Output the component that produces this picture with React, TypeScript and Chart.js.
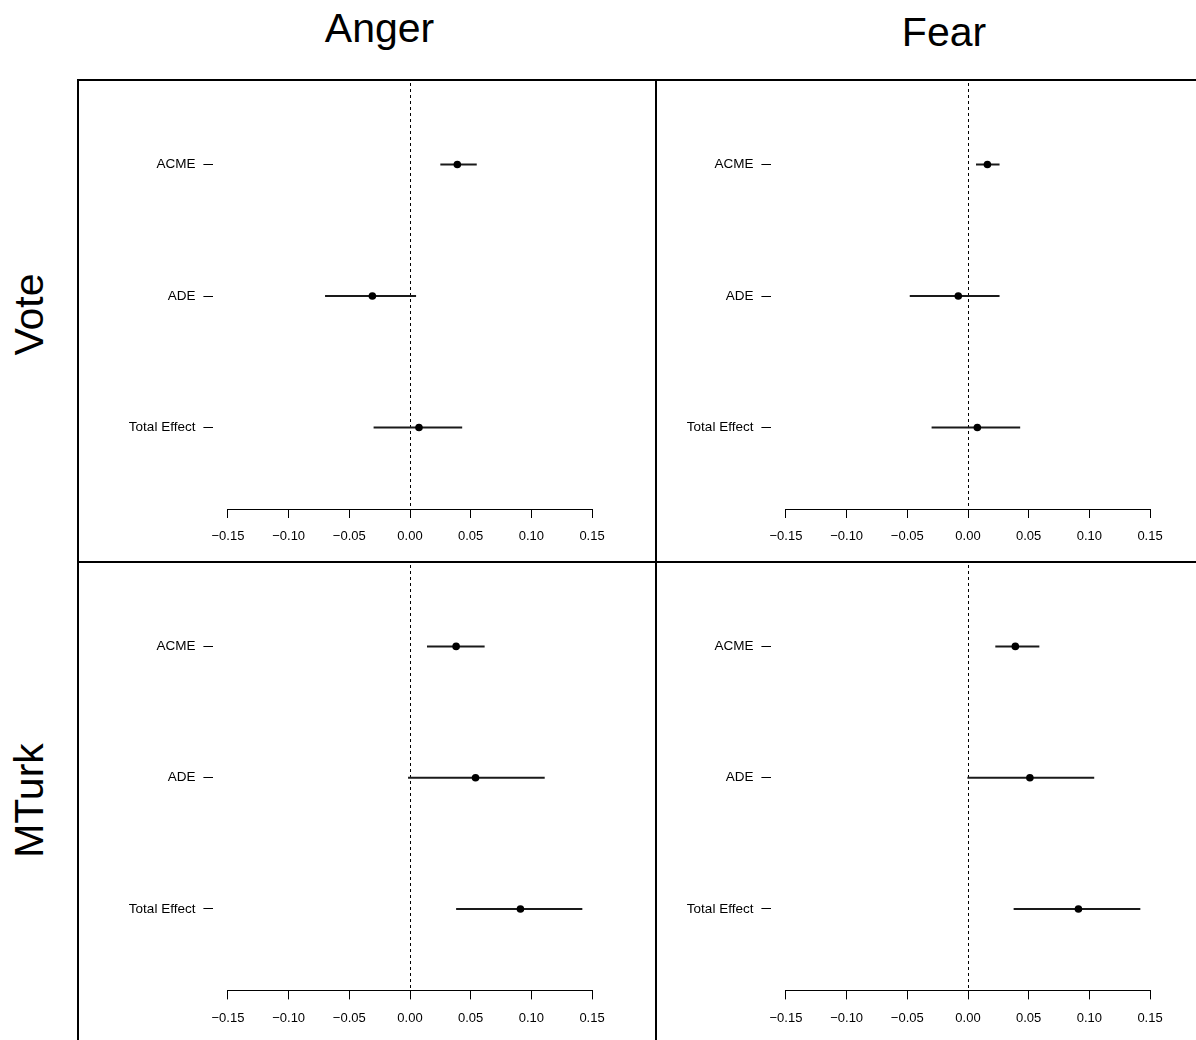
import React, { useEffect, useRef } from "react";
import { Chart, registerables } from "chart.js";

Chart.register(...registerables);

// Effect labels and their positions on the vertical axis (top to bottom)
const effects = ["ACME", "ADE", "Total Effect"];
const effectPos = [3, 2, 1];
const xTicks = [-0.15, -0.1, -0.05, 0, 0.05, 0.1, 0.15];

// Vote sample, anger
const voteAngerEst = [0.039, -0.031, 0.0074];
const voteAngerLo = [0.025, -0.07, -0.03];
const voteAngerHi = [0.055, 0.005, 0.043];
// Vote sample, fear
const voteFearEst = [0.016, -0.008, 0.0077];
const voteFearLo = [0.0066, -0.048, -0.03];
const voteFearHi = [0.026, 0.026, 0.043];
// MTurk sample, anger
const mturkAngerEst = [0.038, 0.054, 0.091];
const mturkAngerLo = [0.014, -0.0016, 0.038];
const mturkAngerHi = [0.0615, 0.111, 0.142];
// MTurk sample, fear
const mturkFearEst = [0.039, 0.051, 0.091];
const mturkFearLo = [0.0225, -0.0005, 0.0376];
const mturkFearHi = [0.0588, 0.104, 0.142];

const FONT = "'Liberation Sans', Arial, Helvetica, sans-serif";

const fmt = (v: number) => {
  if (Math.abs(v) < 1e-9) return "0.00";
  return v.toFixed(2).replace("-", "\u2212");
};

type PanelProps = {
  est: number[];
  lo: number[];
  hi: number[];
  left: number;
  top: number;
  width: number;
  height: number;
  yAxisWidth: number;
  xAxisHeight: number;
  padTop: number;
  padRight: number;
};

const panelPlugin = {
  id: "panelDecor",
  beforeDatasetsDraw(chart: any) {
    const { ctx, chartArea, scales } = chart;
    const x = scales.x;
    ctx.save();
    // dashed reference line at zero
    const x0 = Math.round(x.getPixelForValue(0)) + 0.5;
    ctx.strokeStyle = "#000";
    ctx.lineWidth = 1;
    ctx.setLineDash([3, 3]);
    ctx.beginPath();
    ctx.moveTo(x0, chartArea.top);
    ctx.lineTo(x0, chartArea.bottom);
    ctx.stroke();
    ctx.setLineDash([]);
    // axis line spanning first to last tick
    const yb = Math.round(chartArea.bottom) + 0.5;
    ctx.beginPath();
    ctx.moveTo(x.getPixelForValue(xTicks[0]), yb);
    ctx.lineTo(x.getPixelForValue(xTicks[xTicks.length - 1]), yb);
    ctx.stroke();
    ctx.restore();
  },
  afterDraw(chart: any) {
    const { ctx, width, height } = chart;
    ctx.save();
    ctx.fillStyle = "#000";
    ctx.fillRect(0, 0, width, 2);
    ctx.fillRect(0, 0, 2, height);
    ctx.restore();
  },
};

function Panel(p: PanelProps) {
  const ref = useRef<HTMLCanvasElement>(null);
  useEffect(() => {
    if (!ref.current) return;
    const pts = p.est.map((v, i) => ({ x: v, y: effectPos[i] }));
    const ciSets = p.lo.map((l, i) => ({
      data: [
        { x: l, y: effectPos[i] },
        { x: p.hi[i], y: effectPos[i] },
      ],
      showLine: true,
      borderColor: "#1a1a1a",
      borderWidth: 2,
      pointRadius: 0,
      pointHoverRadius: 0,
    }));
    const chart = new Chart(ref.current, {
      type: "scatter",
      data: {
        datasets: [
          {
            data: pts,
            pointRadius: 3.8,
            pointBackgroundColor: "#000",
            pointBorderWidth: 0,
            showLine: false,
          },
          ...ciSets,
        ],
      } as any,
      options: {
        responsive: false,
        animation: false,
        events: [],
        layout: { padding: { top: p.padTop, right: p.padRight, left: 0, bottom: 0 } },
        plugins: { legend: { display: false }, tooltip: { enabled: false } },
        scales: {
          x: {
            type: "linear",
            min: -0.162,
            max: 0.162,
            afterBuildTicks: (s: any) => {
              s.ticks = xTicks.map((v) => ({ value: v }));
            },
            afterFit: (s: any) => {
              s.height = p.xAxisHeight;
              s.paddingLeft = 0;
              s.paddingRight = 0;
            },
            ticks: {
              callback: (v: any) => fmt(Number(v)),
              font: { size: 13, family: FONT },
              color: "#000",
              padding: 11,
              autoSkip: false,
              maxRotation: 0,
            },
            grid: {
              drawOnChartArea: false,
              drawTicks: true,
              tickLength: 9,
              tickColor: "#000",
              tickWidth: 1,
            },
            border: { display: false },
          },
          y: {
            type: "linear",
            min: 0.38,
            max: 3.62,
            afterBuildTicks: (s: any) => {
              s.ticks = effectPos.map((v) => ({ value: v }));
            },
            afterFit: (s: any) => {
              s.width = p.yAxisWidth;
              s.paddingTop = 0;
              s.paddingBottom = 0;
            },
            ticks: {
              callback: (v: any) => effects[effectPos.indexOf(Number(v))],
              font: { size: 13.5, family: FONT },
              color: "#000",
              padding: 8,
              autoSkip: false,
            },
            grid: {
              drawOnChartArea: false,
              drawTicks: true,
              tickLength: 10,
              tickColor: "#000",
              tickWidth: 1,
            },
            border: { display: false },
          },
        },
      } as any,
      plugins: [panelPlugin],
    });
    return () => chart.destroy();
  }, []);
  return (
    <canvas
      ref={ref}
      width={p.width}
      height={p.height}
      style={{ position: "absolute", left: p.left, top: p.top, width: p.width, height: p.height }}
    />
  );
}

const titleStyle = (cx: number, top: number): React.CSSProperties => ({
  position: "absolute",
  left: cx - 150,
  top,
  width: 300,
  textAlign: "center",
  fontFamily: FONT,
  fontSize: 41,
  lineHeight: "41px",
  color: "#000",
  whiteSpace: "nowrap",
});

const rowStyle = (cx: number, cy: number): React.CSSProperties => ({
  position: "absolute",
  left: cx - 150,
  top: cy - 20.5,
  width: 300,
  height: 41,
  textAlign: "center",
  fontFamily: FONT,
  fontSize: 41,
  lineHeight: "41px",
  color: "#000",
  whiteSpace: "nowrap",
  transform: "rotate(-90deg)",
  transformOrigin: "50% 50%",
});

export default function App() {
  const leftCol = { left: 77, width: 578, yAxisWidth: 136.4, padRight: 48.4 };
  const rightCol = { left: 655, width: 541, yAxisWidth: 116.4, padRight: 31.4 };
  const topRow = { top: 79, height: 482, padTop: 2.5, xAxisHeight: 52 };
  const botRow = { top: 561, height: 479, padTop: 1.9, xAxisHeight: 49.6 };
  return (
    <div
      style={{
        position: "absolute",
        left: 0,
        top: 0,
        width: 1196,
        height: 1040,
        overflow: "hidden",
        background: "#fff",
      }}
    >
      <div style={titleStyle(379.5, 8)}>Anger</div>
      <div style={titleStyle(944, 12)}>Fear</div>
      <div style={rowStyle(28.8, 314)}>Vote</div>
      <div style={rowStyle(28.8, 800)}>MTurk</div>
      <Panel est={voteAngerEst} lo={voteAngerLo} hi={voteAngerHi} {...leftCol} {...topRow} />
      <Panel est={voteFearEst} lo={voteFearLo} hi={voteFearHi} {...rightCol} {...topRow} />
      <Panel est={mturkAngerEst} lo={mturkAngerLo} hi={mturkAngerHi} {...leftCol} {...botRow} />
      <Panel est={mturkFearEst} lo={mturkFearLo} hi={mturkFearHi} {...rightCol} {...botRow} />
    </div>
  );
}
